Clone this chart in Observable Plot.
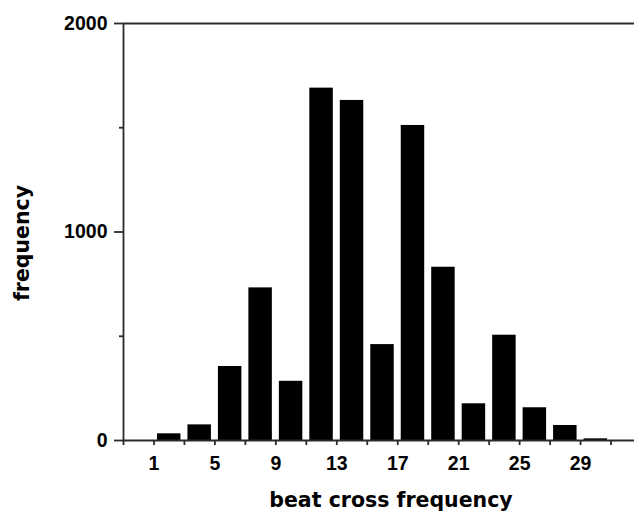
<!DOCTYPE html>
<html>
<head>
<meta charset="utf-8">
<script src="https://cdn.jsdelivr.net/npm/d3@7"></script>
<script src="https://cdn.jsdelivr.net/npm/@observablehq/plot@0.6"></script>
<style>
  html, body { margin: 0; padding: 0; background: #fff; }
  #chart svg { display: block; }
</style>
</head>
<body>
<div id="chart"></div>
<script>
// Bins of beat cross frequency (each bin spans two units, starting at these values)
const binStart = [1, 3, 5, 7, 9, 11, 13, 15, 17, 19, 21, 23, 25, 27, 29];
const counts   = [32, 75, 355, 732, 284, 1690, 1631, 460, 1511, 831, 176, 505, 157, 72, 8];
const xTickLabels = [1, 5, 9, 13, 17, 21, 25, 29];
const xTickMarks = [-1, 1, 3, 5, 7, 9, 11, 13, 15, 17, 19, 21, 23, 25, 27, 29, 31];
const yTickLabels = [0, 1000, 2000];
const yMinorTicks = [500, 1500];
const xTitle = "beat cross frequency";
const yTitle = "frequency";

const data = binStart.map((s, i) => ({x1: s, x2: s + 2, count: counts[i]}));

const font = '"Liberation Sans", Arial, Helvetica, sans-serif';
const titleFont = '"DejaVu Sans", "Liberation Sans", Arial, sans-serif';
const axisColor = "#2a2a2a";

const chart = Plot.plot({
  width: 634,
  height: 517,
  marginLeft: 123,
  marginRight: 0,
  marginTop: 23,
  marginBottom: 77,
  style: {fontFamily: font, fontWeight: "bold", background: "#fff", color: "#000"},
  x: {domain: [-1, 32.54], axis: null},
  y: {domain: [0, 2000], axis: null},
  marks: [
    Plot.rectY(data, {x1: "x1", x2: "x2", y: "count", fill: "#000", insetLeft: 3.5, insetRight: 3.5}),
    Plot.ruleY([0], {stroke: axisColor, strokeWidth: 1.8}),
    Plot.ruleY([2000], {stroke: axisColor, strokeWidth: 1.8}),
    Plot.ruleX([-1], {stroke: axisColor, strokeWidth: 1.8}),
    Plot.axisY({ticks: yTickLabels, tickSize: 9, tickPadding: 7, tickFormat: d => String(d),
      fontSize: 19.5, fontWeight: "bold", stroke: axisColor, strokeWidth: 1.8, label: null}),
    Plot.axisY({ticks: yMinorTicks, tickSize: 4, text: null, stroke: axisColor, strokeWidth: 1.8, label: null}),
    Plot.axisX({ticks: xTickMarks, tickSize: 5, text: null, stroke: axisColor, strokeWidth: 1.8, label: null}),
    Plot.axisX({ticks: xTickLabels, tickSize: 0, tickPadding: 16, tickFormat: d => String(d),
      fontSize: 19.5, fontWeight: "bold", label: null}),
    Plot.text([xTitle], {frameAnchor: "bottom", dx: 12, dy: 60, fontSize: 20.5, fontWeight: "bold",
      fontFamily: titleFont, textAnchor: "middle", lineAnchor: "middle", fill: "#000"}),
    Plot.text([yTitle], {frameAnchor: "left", dx: -101, dy: 11, rotate: -90, fontSize: 20.5, fontWeight: "bold",
      fontFamily: titleFont, textAnchor: "middle", lineAnchor: "middle", fill: "#000"})
  ]
});

document.getElementById("chart").appendChild(chart);
</script>
</body>
</html>
